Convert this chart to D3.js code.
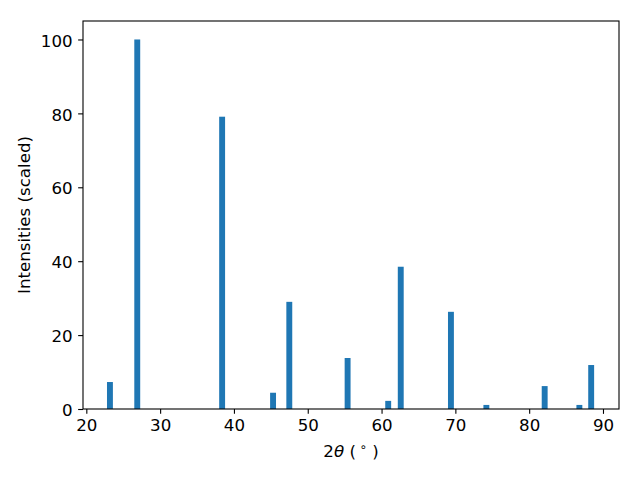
<!DOCTYPE html>
<html>
<head>
<meta charset="utf-8">
<script src="https://cdn.jsdelivr.net/npm/d3@7"></script>
<style>
  html, body { margin: 0; padding: 0; background: #fff; }
  svg { display: block; }
  text { font-family: "DejaVu Sans", sans-serif; fill: #000; }
</style>
</head>
<body>
<svg id="chart" width="640" height="480"></svg>
<script>
const twoTheta = [23.2, 26.9, 38.4, 45.3, 47.5, 55.4, 60.9, 62.6, 69.4, 74.2, 82.1, 86.8, 88.4];
const intensity = [7.3, 100, 79.1, 4.4, 29.0, 13.8, 2.2, 38.5, 26.3, 1.1, 6.2, 1.1, 11.9];
const xTicks = [20, 30, 40, 50, 60, 70, 80, 90];
const yTicks = [0, 20, 40, 60, 80, 100];
const barWidth = 0.8;

const svg = d3.select("#chart");
const L = 83, T = 21, R = 619, B = 409;
const fs = 16.67;

const x = d3.scaleLinear().domain([19.55, 92.17]).range([L, R]);
const y = d3.scaleLinear().domain([0, 105]).range([B, T]);

svg.append("g").selectAll("rect")
  .data(twoTheta.map((c, i) => ({c, v: intensity[i]})))
  .join("rect")
  .attr("x", d => x(d.c - barWidth / 2))
  .attr("width", d => x(d.c + barWidth / 2) - x(d.c - barWidth / 2))
  .attr("y", d => y(d.v))
  .attr("height", d => y(0) - y(d.v))
  .attr("fill", "#1f77b4");

const xAxis = svg.append("g").attr("transform", `translate(0,${B})`)
  .call(d3.axisBottom(x).tickValues(xTicks).tickSize(4.86).tickPadding(4.86).tickFormat(d3.format("d")));
const yAxis = svg.append("g").attr("transform", `translate(${L},0)`)
  .call(d3.axisLeft(y).tickValues(yTicks).tickSize(4.86).tickPadding(5.5).tickFormat(d3.format("d")));

[xAxis, yAxis].forEach(g => {
  g.select(".domain").remove();
  g.selectAll(".tick line").attr("stroke", "#000").attr("stroke-width", 1.1);
  g.selectAll(".tick text").attr("font-size", fs).attr("font-family", "DejaVu Sans").attr("fill", "#000");
});
xAxis.selectAll(".tick text").attr("y", 22).attr("dy", 0);
yAxis.selectAll(".tick text").attr("dy", "0.40em");

svg.append("rect")
  .attr("x", L).attr("y", T).attr("width", R - L).attr("height", B - T)
  .attr("fill", "none").attr("stroke", "#000").attr("stroke-width", 1.1);

const xl = svg.append("text")
  .attr("x", (L + R) / 2).attr("y", 457)
  .attr("text-anchor", "middle").attr("font-size", fs);
xl.append("tspan").text("2");
xl.append("tspan").attr("font-style", "italic").text("θ");
xl.append("tspan").text(" (");
xl.append("tspan").attr("font-size", fs * 0.7).attr("dy", -6).text(" ∘");
xl.append("tspan").attr("dy", 6).text(" )");

svg.append("text")
  .attr("transform", `translate(29.5,${(T + B) / 2}) rotate(-90)`)
  .attr("text-anchor", "middle").attr("font-size", fs)
  .text("Intensities (scaled)");
</script>
</body>
</html>
